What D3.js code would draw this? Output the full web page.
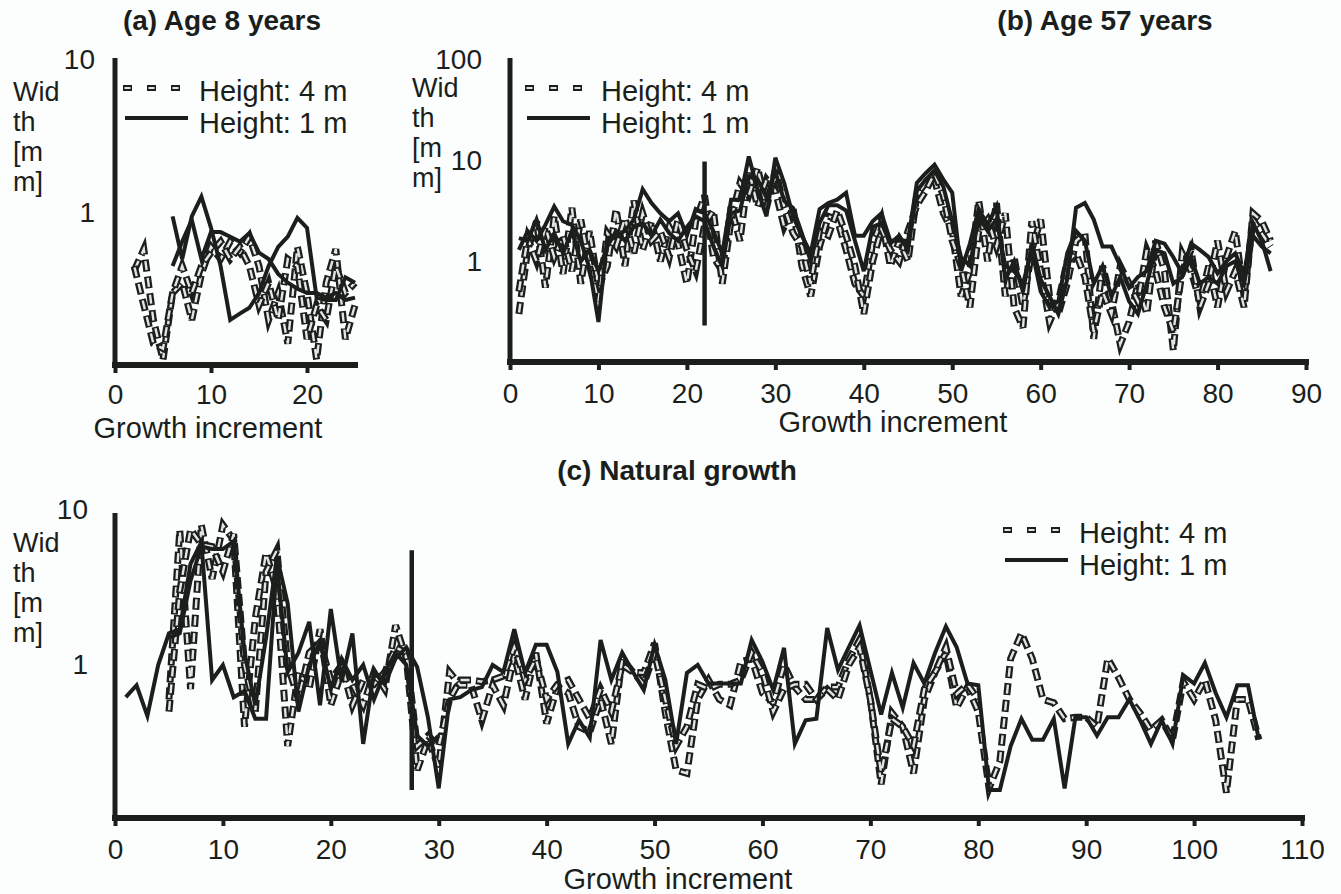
<!DOCTYPE html>
<html>
<head>
<meta charset="utf-8">
<script src="https://cdn.jsdelivr.net/npm/d3@7"></script>
<style>
  body{margin:0;background:#fcfdfd;}
  svg{display:block;font-family:"Liberation Sans",Arial,sans-serif;}
</style>
</head>
<body>
<script>
//----------------DATA-----------------
// width [mm] per growth increment, x = start + index
const legendLabels = ['Height: 4 m','Height: 1 m'];
const yLabelLines = ['Wid','th','[m','m]'];
const xTitle = 'Growth increment';

// (a) age 8
const aXTicks = [0,10,20];
const aYTicks = [10,1];
const a4mStart = 2, a1mStart = 6;
const a4m1 = [0.42,0.58,0.2,0.11,0.3,0.35,0.2,0.4,0.6,0.5,0.65,0.55,0.7,0.45,0.2,0.3,0.14,0.6,0.3,0.11,0.35,0.58,0.15,0.25];
const a4m2 = [0.45,0.25,0.14,0.13,0.3,0.45,0.3,0.45,0.55,0.65,0.5,0.6,0.45,0.25,0.35,0.2,0.5,0.45,0.15,0.25,0.2,0.45,0.3,0.35];
const a1m1 = [0.95,0.5,0.95,1.28,0.8,0.45,0.2,0.22,0.24,0.3,0.45,0.6,0.7,0.93,0.8,0.28,0.27,0.27,0.38,0.35];
const a1m2 = [0.45,0.65,0.9,0.5,0.75,0.75,0.7,0.65,0.74,0.55,0.5,0.4,0.35,0.32,0.3,0.3,0.28,0.3,0.27,0.28];

// (b) age 57
const bXTicks = [0,10,20,30,40,50,60,70,80,90];
const bYTicks = [100,10,1];
const bStart = 1;
const b4m1 = [0.3,1.3,2.5,0.55,2.8,0.75,3.4,0.6,2.0,0.55, 0.9,3.3,0.9,4.0,1.3,2.5,1.0,2.2,1.5,0.6,
  2.5,4.5,1.1,0.8,3.5,1.6,8.0,3.5,6.5,5.0, 2.2,3.4,0.9,0.45,1.4,2.8,2.6,1.3,0.6,0.45,
  1.5,2.6,0.9,1.6,1.0,4.6,6.0,6.5,3.0,2.0, 0.45,0.8,4.0,1.0,3.8,0.45,1.1,0.35,1.3,2.6,
  0.45,0.3,0.6,1.6,1.9,0.17,0.9,0.4,0.15,0.25, 0.6,0.3,1.6,0.8,0.13,1.2,0.8,0.4,0.9,0.35,
  1.1,2.0,0.45,2.6,1.9,1.4];
const b4m2 = [0.5,1.7,1.0,2.2,1.1,1.8,0.8,2.6,0.9,0.4, 1.9,1.4,2.7,1.2,3.0,1.6,2.0,1.1,2.6,1.3,
  0.8,2.3,3.2,0.6,2.6,6.0,4.5,8.5,3.4,8.0, 3.5,1.9,1.4,0.6,2.0,1.8,3.2,1.8,0.9,0.3,
  1.0,2.1,1.3,1.0,2.0,3.6,5.0,7.5,4.5,1.6, 0.9,0.35,2.0,2.6,1.4,3.0,0.35,0.22,2.5,0.8,
  0.25,0.4,1.0,1.2,0.7,0.2,0.5,0.3,0.9,0.6, 0.4,1.3,0.8,0.35,0.2,0.8,1.3,0.35,0.6,1.6,
  0.5,0.8,0.35,3.0,2.5,1.6];
const b1m1 = [1.3,2.0,1.6,2.3,3.5,2.5,2.3,1.6,0.85,0.25, 1.7,1.8,2.0,2.6,5.2,3.8,3.0,2.5,3.0,1.8,
  3.3,3.0,2.0,1.2,4.1,4.1,11,5.1,2.8,10.7, 6.0,2.8,1.8,1.2,3.3,3.8,4.1,4.8,1.8,1.8,
  2.5,3.0,1.6,1.6,1.6,6.0,7.5,9.1,6.5,4.8, 0.8,1.5,3.3,2.3,3.5,0.66,1.0,0.5,1.5,0.66,
  0.45,0.3,0.66,3.4,3.8,2.6,1.4,1.4,0.9,0.55, 0.7,0.8,1.6,1.5,1.1,0.76,1.5,1.3,1.1,0.76,
  1.0,1.2,0.76,2.4,1.6,0.8];
const b1m2 = [1.7,1.6,2.6,1.3,1.9,1.2,2.0,1.0,1.3,0.8, 1.4,2.0,1.6,2.2,2.4,1.8,2.6,1.9,1.6,2.2,
  2.8,2.5,1.4,0.9,3.0,3.2,7.0,6.5,4.3,7.8, 4.0,3.4,1.9,1.0,2.4,3.6,3.6,3.2,1.6,0.8,
  2.2,2.4,1.5,1.8,1.3,5.0,6.5,8.0,5.5,2.5, 1.1,0.9,2.8,2.0,2.6,0.9,0.8,0.6,1.3,0.5,
  0.35,0.4,1.2,2.0,1.6,0.6,0.9,0.45,0.7,0.4, 0.3,0.6,1.3,1.2,0.6,0.7,1.1,0.6,0.7,0.6,
  0.9,1.0,0.6,1.8,1.4,1.2];
const bMarkX = [22];
const bMarkY = [0.23,9.8];

// (c) natural growth
const cXTicks = [0,10,20,30,40,50,60,70,80,90,100,110];
const cYTicks = [10,1];
const c1m1Start = 1, c1m2Start = 5, c4mStart = 5;
const c1m1 = [0.62,0.74,0.47,1.0,1.6,1.7,4.5,6.2,0.8,1.0, 0.62,0.68,0.45,0.45,4.5,0.9,1.2,1.9,0.55,2.3,
  0.78,1.6,0.31,0.9,0.75,1.1,1.3,0.97,0.46,0.16, 0.6,0.62,0.69,0.72,1.0,0.9,1.7,0.89,1.35,1.35,
  0.9,0.31,0.44,0.34,1.45,0.8,1.2,0.9,0.69,1.35, 0.8,0.31,0.89,1.0,0.76,0.76,0.76,0.76,1.45,1.05,
  0.69,1.29,0.31,0.44,0.45,1.73,0.93,1.3,1.8,0.93, 0.48,0.89,0.53,1.03,0.76,1.2,1.77,1.3,0.76,0.74,
  0.156,0.156,0.3,0.45,0.33,0.33,0.45,0.16,0.46,0.46, 0.35,0.46,0.46,0.6,0.44,0.31,0.44,0.31,0.86,0.76,
  1.03,0.66,0.46,0.74,0.74,0.33];
const c1m2 = [1.5,1.6,3.5,5.8,5.6,5.6,6.3,1.2,0.55,1.5, 5.0,2.5,0.5,1.0,1.4,0.7,1.1,0.8,1.0,0.6,
  0.9,1.2,1.0,0.35,0.3,0.35];
const c4m1 = [0.6,7.4,0.7,8.0,3.6,8.0,6.4,0.4,2.0,5.3, 3.0,0.3,0.9,0.7,1.7,0.55,0.9,0.75,0.55,0.9,
  0.7,1.8,1.1,0.21,0.33,0.22,0.9,0.74,0.74,0.44, 0.74,0.55,1.15,0.6,1.2,0.42,0.72,0.66,0.4,0.37,
  0.6,0.31,1.1,0.9,0.89,1.38,0.49,0.21,0.2,0.6, 0.8,0.6,0.55,1.05,1.1,0.66,0.57,1.0,0.72,0.6,
  0.6,0.72,0.72,1.08,1.45,0.6,0.17,0.49,0.4,0.2, 0.6,0.9,1.2,0.53,0.72,0.5,0.16,0.24,1.1,1.6,
  1.1,0.6,0.57,0.45,0.46,0.46,0.4,1.1,0.83,0.6, 0.49,0.38,0.44,0.33,0.78,0.6,0.8,0.44,0.15,0.6,
  0.6,0.33];
const c4m2 = [0.5,3.0,7.5,6.0,5.8,4.0,7.0,1.0,0.5,4.0, 5.5,1.0,0.6,1.2,1.4,0.8,1.0,0.55,0.8,0.75,
  0.9,1.3,1.2,0.3,0.35,0.3,0.6,0.8,0.8,0.78, 0.8,0.85,1.3,0.8,1.1,0.6,0.75,0.8,0.6,0.45,
  0.7,0.5,1.0,0.9,0.75,1.2,0.6,0.3,0.4,0.75, 0.7,0.75,0.75,0.8,1.2,0.9,0.5,0.7,0.75,0.75,
  0.6,0.7,0.6,1.0,1.3,0.6,0.2,0.45,0.4,0.3, 0.7,0.9,1.3,0.65,0.75,0.6];
const cMarkX = [27.5];
const cMarkY = [0.156,5.5];

//----------------HELPERS-----------------
const w = 1341, h = 894;
const ink = '#1a1f1c';
const hollow = '#e2e4e3';

function toPts(start, vals){
  return vals.map((v,i)=>[start+i, v]);
}

const svg = d3.select('body').append('svg')
  .attr('width', w).attr('height', h);

// one panel = axes + lines + legend
function drawPanel(p){
  const x = d3.scaleLinear().domain([0, p.xMax]).range([p.x0, p.x1]);
  const y = d3.scaleLog().domain([p.yMin, p.yMax]).range([p.yBot, p.yTop]);
  const g = svg.append('g');
  const line = d3.line().x(d=>x(d[0])).y(d=>y(d[1]));

  // title
  g.append('text').attr('x', p.titleX).attr('y', p.titleY)
    .attr('text-anchor','middle').attr('font-weight','bold')
    .attr('font-size', 28).attr('fill', ink).text(p.title);

  // y label, broken in 4 lines like the original
  yLabelLines.forEach((t,i)=>{
    g.append('text').attr('x', p.labelX).attr('y', p.labelY + i*30)
      .attr('dy','0.35em').attr('font-size', 27).attr('fill', ink).text(t);
  });

  // dashed (4 m) first, outlined look = thick black dash + light core
  p.dashed.forEach(s=>{
    const d = line(s);
    g.append('path').attr('d', d).attr('fill','none')
      .attr('stroke', ink).attr('stroke-width', 7)
      .attr('stroke-dasharray','12 5').attr('stroke-linejoin','miter');
    g.append('path').attr('d', d).attr('fill','none')
      .attr('stroke', hollow).attr('stroke-width', 2.4)
      .attr('stroke-dasharray','9 8').attr('stroke-dashoffset', -1.5);
  });
  p.solid.forEach(s=>{
    g.append('path').attr('d', line(s)).attr('fill','none')
      .attr('stroke', ink).attr('stroke-width', 4)
      .attr('stroke-linejoin','miter');
  });

  // vertical marker
  if(p.markX){
    g.append('line')
      .attr('x1', x(p.markX[0])).attr('x2', x(p.markX[0]))
      .attr('y1', y(p.markY[0])).attr('y2', y(p.markY[1]))
      .attr('stroke', ink).attr('stroke-width', 4.5);
  }

  // x axis
  const xa = g.append('g').attr('transform','translate(0,'+p.axisY+')')
    .call(d3.axisBottom(x).tickValues(p.xTicks).tickSize(8).tickPadding(p.xPad).tickFormat(d3.format('d')));
  xa.select('.domain').remove();
  xa.selectAll('line').attr('stroke', ink).attr('stroke-width', 4);
  xa.selectAll('text').attr('font-size', 28).attr('fill', ink)
    .attr('font-family','"Liberation Sans",Arial,sans-serif');
  g.append('line').attr('x1', x(0)-3).attr('x2', x(p.xMax)+3)
    .attr('y1', p.axisY).attr('y2', p.axisY)
    .attr('stroke', ink).attr('stroke-width', 6);

  // y axis
  const ya = g.append('g').attr('transform','translate('+p.x0+',0)')
    .call(d3.axisLeft(y).tickValues(p.yTicks).tickSize(0).tickPadding(p.yPad).tickFormat(d3.format('d')));
  ya.select('.domain').remove();
  ya.selectAll('text').attr('font-size', 28).attr('fill', ink)
    .attr('font-family','"Liberation Sans",Arial,sans-serif');
  g.append('line').attr('x1', p.x0).attr('x2', p.x0)
    .attr('y1', p.axisTop).attr('y2', p.axisY+3)
    .attr('stroke', ink).attr('stroke-width', 5);

  // x title
  g.append('text').attr('x', p.xtX).attr('y', p.xtY)
    .attr('text-anchor','middle').attr('font-size', 29).attr('fill', ink).text(xTitle);

  // legend
  const lg = g.append('g');
  lg.append('line').attr('x1', p.legX).attr('x2', p.legX+57)
    .attr('y1', p.legY).attr('y2', p.legY)
    .attr('stroke', ink).attr('stroke-width', 6).attr('stroke-dasharray','9 15');
  lg.append('line').attr('x1', p.legX).attr('x2', p.legX+57)
    .attr('y1', p.legY).attr('y2', p.legY)
    .attr('stroke', hollow).attr('stroke-width', 2).attr('stroke-dasharray','6 18')
    .attr('stroke-dashoffset', -1.5);
  lg.append('line').attr('x1', p.legX+2).attr('x2', p.legX+65)
    .attr('y1', p.legY+30).attr('y2', p.legY+30)
    .attr('stroke', ink).attr('stroke-width', 4);
  legendLabels.forEach((t,i)=>{
    lg.append('text').attr('x', p.legX+76).attr('y', p.legY+3+i*32)
      .attr('dy','0.35em').attr('font-size', 29).attr('fill', ink).text(t);
  });
}

//----------------PANELS-----------------
drawPanel({
  title:'(a) Age 8 years', titleX:222, titleY:30,
  x0:115, x1:355, xMax:25, yTop:60, yBot:366, yMin:0.1, yMax:10,
  axisY:365, axisTop:58, xTicks:aXTicks, yTicks:aYTicks, xPad:11, yPad:20,
  labelX:13, labelY:92, legX:123, legY:88, xtX:208, xtY:438,
  dashed:[toPts(a4mStart,a4m1), toPts(a4mStart,a4m2)],
  solid:[toPts(a1mStart,a1m1), toPts(a1mStart,a1m2)]
});

drawPanel({
  title:'(b) Age 57 years', titleX:1105, titleY:30,
  x0:510, x1:1306, xMax:90, yTop:60, yBot:362, yMin:0.1, yMax:100,
  axisY:362, axisTop:58, xTicks:bXTicks, yTicks:bYTicks, xPad:13, yPad:28,
  labelX:412, labelY:88, legX:525, legY:88, xtX:893, xtY:432,
  dashed:[toPts(bStart,b4m1), toPts(bStart,b4m2)],
  solid:[toPts(bStart,b1m1), toPts(bStart,b1m2)],
  markX:bMarkX, markY:bMarkY
});

drawPanel({
  title:'(c) Natural growth', titleX:677, titleY:480,
  x0:115, x1:1302, xMax:110, yTop:510, yBot:820, yMin:0.1, yMax:10,
  axisY:818, axisTop:513, xTicks:cXTicks, yTicks:cYTicks, xPad:13, yPad:27,
  labelX:13, labelY:543, legX:1003, legY:530, xtX:678, xtY:889,
  dashed:[toPts(c4mStart,c4m1), toPts(c4mStart,c4m2)],
  solid:[toPts(c1m1Start,c1m1), toPts(c1m2Start,c1m2)],
  markX:cMarkX, markY:cMarkY
});
</script>
</body>
</html>
